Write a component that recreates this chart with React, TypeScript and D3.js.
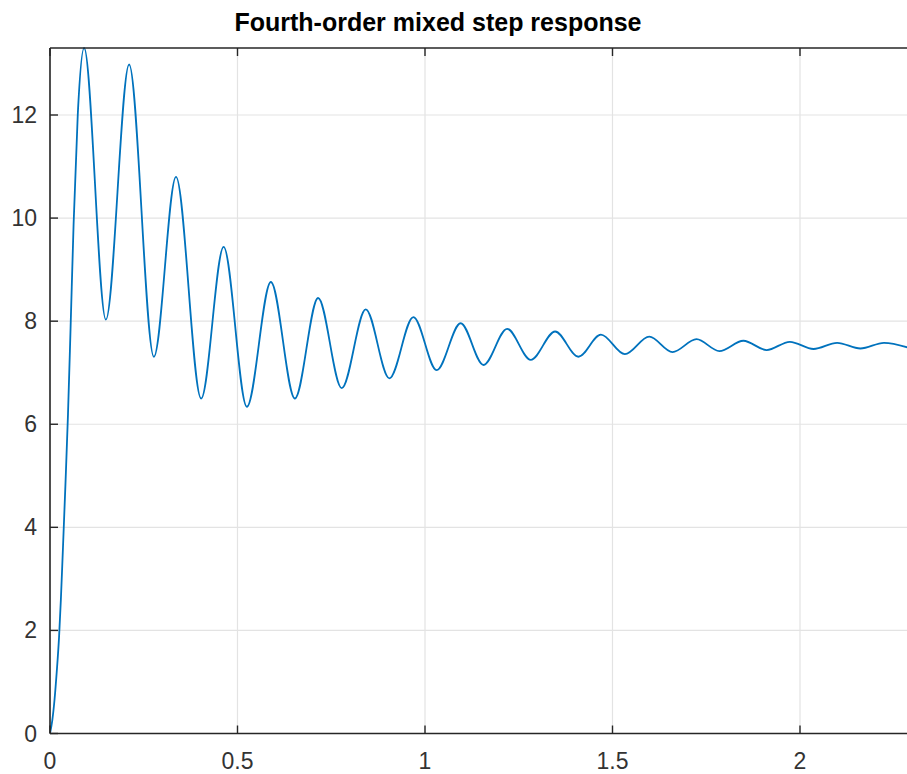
import React from "react";
import * as d3 from "d3";

const W = 907;
const H = 774;

// Sample times (s): rise points, then alternating peaks/troughs
const times = [
  0, 0.006, 0.012, 0.018, 0.024, 0.029, 0.034, 0.041, 0.048, 0.055, 0.063, 0.074,
  0.091, 0.149, 0.211, 0.277, 0.336, 0.403, 0.463, 0.525, 0.589, 0.653,
  0.715, 0.778, 0.842, 0.905, 0.969, 1.031, 1.095, 1.156, 1.219, 1.282,
  1.347, 1.409, 1.469, 1.533, 1.598, 1.66, 1.724, 1.785, 1.849, 1.911,
  1.973, 2.036, 2.099, 2.161, 2.224, 2.287,
];
const values = [
  0, 0.25, 0.65, 1.2, 1.85, 2.6, 3.5, 4.8, 6.2, 7.9, 9.9, 12.0,
  13.3, 8.03, 12.98, 7.31, 10.8, 6.5, 9.44, 6.34, 8.76, 6.5,
  8.45, 6.7, 8.23, 6.89, 8.08, 7.05, 7.96, 7.15, 7.85, 7.25,
  7.8, 7.31, 7.74, 7.36, 7.7, 7.4, 7.65, 7.42, 7.62, 7.44,
  7.6, 7.46, 7.58, 7.47, 7.58, 7.49,
];
const xTicks = [0, 0.5, 1, 1.5, 2];
const yTicks = [0, 2, 4, 6, 8, 10, 12];
const title = "Fourth-order mixed step response";

const left = 50;
const top = 48;
const bottom = 733.5;
const right = 910;
const xMax = (right - left) / 375;
const yMax = 13.3;

export default function App() {
  const x = d3.scaleLinear().domain([0, xMax]).range([left, right]);
  const y = d3.scaleLinear().domain([0, yMax]).range([bottom, top]);
  const pts = times.map((t, i) => [t, values[i]] as [number, number]);
  const line = d3
    .line<[number, number]>()
    .x((d) => x(d[0]))
    .y((d) => y(d[1]))
    .curve(d3.curveMonotoneX);

  const axisColor = "#262626";
  const labelColor = "#333333";
  const gridColor = "#e3e3e3";
  const font = "'Liberation Sans', Arial, Helvetica, sans-serif";
  const tickLen = 8;

  return (
    <svg
      width={W}
      height={H}
      style={{ position: "absolute", left: 0, top: 0, background: "#fff" }}
    >
      <defs>
        <clipPath id="plotClip">
          <rect x={left} y={top - 2} width={right - left} height={bottom - top + 4} />
        </clipPath>
      </defs>
      <rect x={0} y={0} width={W} height={H} fill="#fff" />
      {/* grid */}
      {xTicks.map((t) => (
        <line
          key={"gx" + t}
          x1={x(t)}
          x2={x(t)}
          y1={top}
          y2={bottom}
          stroke={gridColor}
          strokeWidth={1.2}
        />
      ))}
      {yTicks.map((v) => (
        <line
          key={"gy" + v}
          x1={left}
          x2={right}
          y1={y(v)}
          y2={y(v)}
          stroke={gridColor}
          strokeWidth={1.2}
        />
      ))}
      {/* data */}
      <path
        d={line(pts) || ""}
        fill="none"
        stroke="#0072BD"
        strokeWidth={1.8}
        strokeLinejoin="round"
        clipPath="url(#plotClip)"
      />
      {/* axes box */}
      <line x1={left} x2={right} y1={bottom} y2={bottom} stroke={axisColor} strokeWidth={1.6} />
      <line x1={left} x2={right} y1={top} y2={top} stroke={axisColor} strokeWidth={1.6} />
      <line x1={left} x2={left} y1={top} y2={bottom} stroke={axisColor} strokeWidth={1.6} />
      {/* ticks */}
      {xTicks.map((t) => (
        <g key={"tx" + t}>
          <line x1={x(t)} x2={x(t)} y1={bottom} y2={bottom - tickLen} stroke={axisColor} strokeWidth={1.4} />
          <line x1={x(t)} x2={x(t)} y1={top} y2={top + tickLen} stroke={axisColor} strokeWidth={1.4} />
          <text
            x={x(t)}
            y={769}
            textAnchor="middle"
            fontFamily={font}
            fontSize={23}
            fill={labelColor}
          >
            {String(t)}
          </text>
        </g>
      ))}
      {yTicks.map((v) => (
        <g key={"ty" + v}>
          <line x1={left} x2={left + tickLen} y1={y(v)} y2={y(v)} stroke={axisColor} strokeWidth={1.4} />
          <text
            x={37}
            y={y(v)}
            dy="0.35em"
            textAnchor="end"
            fontFamily={font}
            fontSize={23}
            fill={labelColor}
          >
            {String(v)}
          </text>
        </g>
      ))}
      <text
        x={438}
        y={31}
        textAnchor="middle"
        fontFamily={font}
        fontWeight="bold"
        fontSize={25}
        fill="#000"
      >
        {title}
      </text>
    </svg>
  );
}
